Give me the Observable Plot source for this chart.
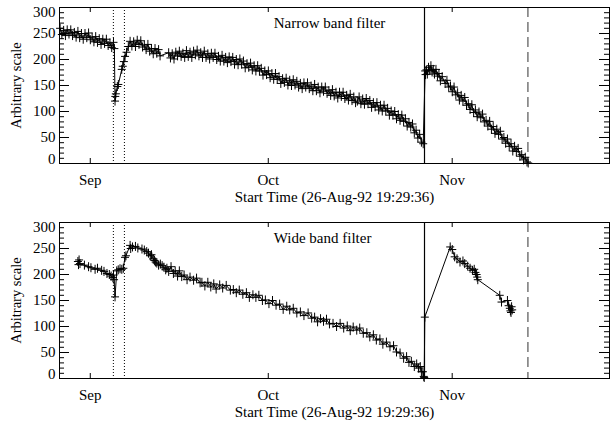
<!DOCTYPE html>
<html>
<head>
<meta charset="utf-8">
<script src="https://cdn.jsdelivr.net/npm/d3@7"></script>
<script src="https://cdn.jsdelivr.net/npm/@observablehq/plot@0.6"></script>
<style>
  html, body { margin: 0; padding: 0; background: white; overflow: hidden; }
  svg { display: block; }
  svg text { font-family: "Liberation Serif", "DejaVu Serif", serif; }
</style>
</head>
<body>
<div id="chart"></div>
<script>
// ---- data (days since start time 26-Aug-92 19:29:36, arbitrary-scale values) ----
const startTime = "1992-08-26T19:29:36Z";
const xTitle = "Start Time (26-Aug-92 19:29:36)";
const yTitle = "Arbitrary scale";
const panelTitles = ["Narrow band filter", "Wide band filter"];
const monthTicks = ["1992-09-01T00:00:00Z", "1992-10-01T00:00:00Z", "1992-11-01T00:00:00Z"];
const yMajor = [0, 50, 100, 150, 200, 250, 300];
const yMinor = [10,20,30,40,60,70,80,90,110,120,130,140,160,170,180,190,210,220,230,240,260,270,280,290];
const dottedDays = [9.08, 10.94];
const solidDays = [61.52];
const dashedDays = [78.95];
const xEndDays = 92.7;
const titleDay = 36.1, titleValue = 270;

const narrowDays = [
 0.1,0.4,0.7,1.0,1.3,1.6,1.9,2.2,2.5,2.8,3.1,3.4,3.7,4.0,4.3,4.6,4.9,5.2,5.5,5.8,6.1,6.4,6.7,7.0,7.3,7.6,7.9,8.2,8.5,8.8,9.1,9.25,
 9.36,9.4,9.5,9.75,9.92,10.49,10.66,10.85,11.05,11.3,11.6,
 11.9,12.2,12.5,12.8,13.1,13.4,13.7,14.0,14.3,14.6,14.9,15.2,15.5,15.8,16.1,16.4,16.7,16.95,
 18.4,18.7,19.0,19.3,19.6,19.9,20.2,20.5,20.8,21.1,21.4,21.7,22.0,22.3,22.6,22.9,23.2,23.5,23.8,24.1,24.4,24.7,25.0,25.3,25.6,25.9,26.2,26.5,26.8,27.1,27.4,27.7,28.0,28.3,28.6,
 28.9,29.2,29.5,29.8,30.1,30.4,30.7,31.0,31.3,31.6,31.9,32.2,32.5,32.8,33.1,33.4,33.7,34.0,34.3,34.6,34.9,35.2,35.5,35.8,36.1,36.4,36.7,37.0,37.3,37.6,37.9,38.2,38.5,38.8,39.1,39.4,39.7,
 40.0,40.3,40.6,40.9,41.2,41.5,41.8,42.1,42.4,42.7,43.0,43.3,43.6,43.9,44.2,44.5,44.8,45.1,45.4,45.7,46.0,46.3,46.6,46.9,47.2,47.5,47.8,48.1,48.4,48.7,49.0,49.3,49.6,49.9,
 50.2,50.5,50.8,51.1,51.4,51.7,52.0,52.3,52.6,52.9,53.2,53.5,53.8,54.1,54.4,54.7,55.0,55.3,55.6,55.9,56.2,56.5,56.8,57.1,57.4,57.7,58.0,58.3,58.6,58.9,59.2,59.5,59.8,60.1,60.4,60.7,61.0,61.3,
 61.63,61.7,61.85,62.0,62.2,62.4,62.6,62.8,63.0,63.2,63.45,63.7,63.95,64.2,64.5,65.0,65.3,65.6,65.9,66.2,66.5,66.8,67.1,67.4,67.7,68.0,68.3,68.6,68.9,69.2,69.5,69.8,
 70.1,70.4,70.7,71.0,71.3,71.6,71.9,72.2,72.5,72.8,73.1,73.4,73.7,74.0,74.3,74.6,74.9,75.2,75.5,75.8,76.1,76.4,76.7,77.0,77.3,77.6,77.9,78.2,78.5,78.8,79.0
];
const narrowValues = [
 260,248,256,246,257,249,257,246,252,243,254,242,250,239,250,242,251,238,243,234,244,233,240,229,239,231,239,227,232,223,233,221,
 120,129,134,148,152,181,187,196,206,214,225,
 235,226,234,225,237,229,236,224,228,219,229,216,221,211,221,212,219,207,
 213,203,211,201,214,207,216,206,212,204,217,206,214,204,216,209,218,207,213,204,216,204,211,201,212,204,212,200,206,197,208,197,204,194,205,
 196,204,191,200,190,201,191,197,184,192,185,193,180,188,178,188,178,183,170,178,171,178,165,173,162,173,162,167,154,163,156,164,151,160,150,161,151,
 158,147,154,144,155,147,155,144,149,140,152,140,147,136,147,139,147,135,140,131,142,130,137,126,137,129,137,125,131,122,133,121,128,117,
 120,128,115,124,114,125,115,121,108,117,109,117,103,112,101,112,101,106,93,101,93,100,86,94,83,93,81,86,72,79,70,76,59,64,49,56,41,38,
 178,171,180,172,185,179,188,176,181,172,181,168,173,159,167,154,160,147,149,138,147,132,136,122,131,120,127,112,115,104,113,98,
 103,90,99,88,95,80,83,72,81,66,71,58,66,56,62,47,50,39,47,33,38,24,33,23,29,14,17,7,12,3,1
];

const wideDays = [
 3.1,3.2,3.3,3.45,4.2,4.9,5.3,6.0,6.4,7.1,7.5,8.0,8.4,8.7,9.0,9.1,9.2,9.36,9.65,9.9,10.2,10.5,10.76,11.04,11.2,11.9,12.0,12.3,12.8,13.2,13.9,14.3,14.7,15.0,15.3,15.5,15.8,16.0,16.2,16.4,16.7,17.0,17.3,17.6,17.9,18.1,18.4,18.8,19.2,19.5,19.9,
 20.2,20.6,21.0,21.5,22.0,22.6,23.1,23.7,24.0,24.5,25.0,25.5,26.0,26.4,27.0,27.5,28.1,28.8,29.3,29.8,30.3,30.9,31.5,32.0,32.6,33.1,33.6,34.2,34.7,35.3,35.9,36.5,37.1,37.7,38.3,38.8,39.4,
 40.0,40.6,41.2,41.9,42.5,43.0,43.5,44.0,44.5,45.0,45.5,46.1,46.7,47.3,47.9,48.5,49.0,49.5,50.1,50.6,51.2,51.8,52.3,52.9,53.4,54.0,54.5,55.1,55.7,56.3,56.8,57.4,58.0,58.5,58.9,59.3,59.8,
 60.2,60.5,60.8,61.0,61.25,61.4,61.47,61.57,
 65.85,66.2,66.6,67.0,67.5,68.0,68.3,68.8,69.2,69.6,69.9,70.1,70.3,70.4,70.5,
 74.2,74.5,75.5,75.7,75.9,76.0,76.1,76.2,76.3
];
const wideValues = [
 225,219,228,221,218,215,213,210,212,208,206,202,200,197,194,199,190,157,207,209,211,210,212,233,236,256,250,253,254,251,249,247,244,241,236,238,230,227,224,222,218,220,217,214,209,212,206,215,202,207,197,
 207,196,199,190,195,189,193,184,185,178,185,176,182,172,180,174,179,170,171,165,170,162,165,156,161,156,160,150,151,144,150,141,143,133,139,132,135,
 126,128,121,126,116,118,109,115,110,114,105,106,100,106,97,101,92,99,93,97,87,88,80,84,74,76,66,70,61,63,51,49,39,42,31,33,23,
 28,20,23,13,13,4,2,118,
 253,248,234,230,224,226,221,216,212,208,210,204,200,195,190,
 160,147,150,140,135,130,127,138,132
];

// ---- drawing ----
const DAY = 864e5;
const t0 = new Date(startTime).getTime();
const toDate = d => new Date(t0 + d * DAY);
const W = 610, H = 211;
const serif = "Liberation Serif";
// IDL-style "+" marker
const plusMarker = {
  draw(ctx) {
    ctx.moveTo(-4, 0); ctx.lineTo(4, 0);
    ctx.moveTo(0, -4.5); ctx.lineTo(0, 4.5);
  }
};

function panel(days, values, title, mt) {
  const mb = H - mt - 156;
  const ml = 59, mr = 1;
  const pw = W - ml - mr, ph = H - mt - mb;
  const data = days.map((d, i) => ({date: toDate(d), v: values[i]}));
  const months = monthTicks.map(s => new Date(s));
  return Plot.plot({
    width: W, height: H,
    marginLeft: ml, marginRight: mr, marginTop: mt, marginBottom: mb,
    style: {fontFamily: serif, fontSize: "15px", color: "black", background: "white"},
    x: {type: "utc", domain: [toDate(0), toDate(xEndDays)], label: null},
    y: {domain: [0, 300], label: null},
    marks: [
      Plot.ruleX(dottedDays.map(toDate), {stroke: "black", strokeWidth: 1, strokeDasharray: "1,2"}),
      Plot.ruleX(solidDays.map(toDate), {stroke: "black", strokeWidth: 1.2}),
      Plot.ruleX(dashedDays.map(toDate), {stroke: "#555", strokeWidth: 1.2, strokeDasharray: "10,5"}),
      Plot.line(data, {x: "date", y: "v", stroke: "black", strokeWidth: 1}),
      Plot.dot(data, {x: "date", y: "v", symbol: plusMarker, r: 3, fill: "none", stroke: "black", strokeWidth: 1}),
      // inward ticks
      Plot.tickY(yMajor, {y: d => d, insetRight: pw - 10, stroke: "black"}),
      Plot.tickY(yMinor, {y: d => d, insetRight: pw - 5, stroke: "black"}),
      Plot.tickY(yMajor, {y: d => d, insetLeft: pw - 10, stroke: "black"}),
      Plot.tickY(yMinor, {y: d => d, insetLeft: pw - 5, stroke: "black"}),
      Plot.tickX(months, {x: d => d, insetBottom: ph - 5, stroke: "black"}),
      Plot.tickX(months, {x: d => d, insetTop: ph - 5, stroke: "black"}),
      Plot.frame({stroke: "black", strokeWidth: 1}),
      // tick labels
      Plot.axisY(yMajor.filter(v => v > 0 && v < 300), {tickSize: 0, tickPadding: 4, label: null}),
      Plot.axisY([300], {tickSize: 0, tickPadding: 4, dy: 4.5, label: null}),
      Plot.axisY([0], {tickSize: 0, tickPadding: 4, dy: -4.5, label: null}),
      Plot.axisX(months, {tickSize: 0, tickPadding: 11, tickFormat: "%b", label: null}),
      // titles
      Plot.text([title], {x: () => toDate(titleDay), y: () => titleValue, text: d => d, textAnchor: "start", lineAnchor: "middle"}),
      Plot.text([xTitle], {frameAnchor: "bottom", text: d => d, dy: 38.5, lineAnchor: "bottom"}),
      Plot.text([yTitle], {frameAnchor: "left", text: d => d, rotate: -90, dx: -43, textAnchor: "middle", lineAnchor: "middle", fontSize: 14.5, fontFamily: serif})
    ]
  });
}

const el = document.getElementById("chart");
el.append(panel(narrowDays, narrowValues, panelTitles[0], 7));
el.append(panel(wideDays, wideValues, panelTitles[1], 11));
</script>
</body>
</html>
